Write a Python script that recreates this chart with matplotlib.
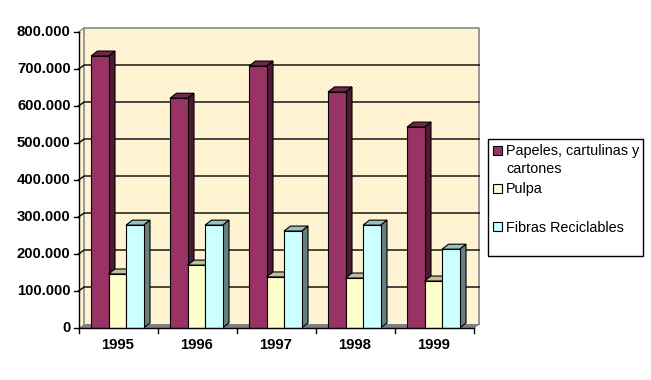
import matplotlib
matplotlib.use("Agg")
import matplotlib.pyplot as plt
from matplotlib.patches import Polygon, Rectangle
import numpy as np

years = ["1995", "1996", "1997", "1998", "1999"]
papeles = [735000, 621000, 708000, 638000, 543000]
pulpa = [146000, 170000, 138000, 135000, 127000]
fibras = [278000, 278000, 262000, 278000, 213000]
series_names = ["Papeles, cartulinas y\ncartones", "Pulpa", "Fibras Reciclables"]
y_ticks = [0, 100000, 200000, 300000, 400000, 500000, 600000, 700000, 800000]

W, H = 651, 380
plt.rcParams["font.family"] = ["Liberation Sans", "DejaVu Sans"]
fig = plt.figure(figsize=(W / 100, H / 100), dpi=100, facecolor="white")

L, R, T, B = 78.5, 473.5, 32.0, 328.0
ax = fig.add_axes([L / W, 1 - B / H, (R - L) / W, (B - T) / H])
ax.set_xlim(0, 5)
ax.set_ylim(0, 800000)
ax.axis("off")

ux = 5 / (R - L)          # x data units per pixel
uy = 800000 / (B - T)     # y data units per pixel
dx, dy = 5.7 * ux, 4 * uy       # wall depth
bdx, bdy = 6.5 * ux, 5 * uy     # bar depth
ymax = 800000

def poly(pts, fc, ec="none", lw=0.8, z=1):
    ax.add_patch(Polygon(pts, closed=True, fc=fc, ec=ec, lw=lw, zorder=z, clip_on=False))

# dithered wall: a repeating 4x4 cell of pale yellow, white and light pink
Y, C, P, N = [255, 255, 204], [255, 250, 225], [255, 226, 205], [255, 243, 205]
cell = np.array([[Y, P, N, C],
                 [N, C, Y, P],
                 [C, Y, P, N],
                 [P, N, C, Y]], dtype=np.uint8)
nw, nh = int(R - L + 6), int(B - T + 4)
tex = np.tile(cell, (nh // 4 + 1, nw // 4 + 1, 1))[:nh, :nw]
ax.imshow(tex, extent=(0, 5 + dx, 0, ymax + dy), aspect="auto", interpolation="nearest",
          zorder=1, clip_on=False)
ax.set_xlim(0, 5)
ax.set_ylim(0, 800000)
# white corners around the skewed side wall / floor
poly([(0, ymax), (dx, ymax + dy), (0, ymax + dy)], "white", z=1.5)
poly([(5, 0), (5 + dx, 0), (5 + dx, dy)], "white", z=1.5)
# floor
poly([(0, 0), (5, 0), (5 + dx, dy), (dx, dy)], "#808080", z=2)
# wall outline
ax.plot([dx, dx, 5 + dx, 5 + dx], [dy, ymax + dy, ymax + dy, dy], color="#8a8a8a", lw=1.2, zorder=2, clip_on=False)
ax.plot([5, 5 + dx], [0, dy], color="#808080", lw=1, zorder=2, clip_on=False)
# gridlines
for v in y_ticks[1:-1]:
    ax.plot([0, dx, 5 + dx], [v, v + dy, v + dy], color="black", lw=1.0, zorder=3, clip_on=False)
ax.plot([0, dx], [ymax, ymax + dy], color="#808080", lw=0.8, zorder=3, clip_on=False)

# bars
styles = [("#993366", "#4D1A33", "#73264D"),
          ("#FFFFCC", "#808066", "#BFBF99"),
          ("#CCFFFF", "#668080", "#99BFBF")]
bw = 17.5 * ux
first = 12.5 * ux
for i in range(len(years)):
    for j, vals in enumerate([papeles, pulpa, fibras]):
        v = vals[i]
        x0 = i + first + j * bw
        x1 = x0 + bw
        front, side, top = styles[j]
        z = 5 + i * 3 + j
        poly([(x1, 0), (x1 + bdx, bdy), (x1 + bdx, v + bdy), (x1, v)], side, "black", z=z)
        poly([(x0, v), (x1, v), (x1 + bdx, v + bdy), (x0 + bdx, v + bdy)], top, "black", z=z)
        poly([(x0, 0), (x1, 0), (x1, v), (x0, v)], front, "black", z=z + 0.5)

# axes lines and ticks
ax.plot([0, 0], [0, ymax], color="black", lw=1.0, zorder=40, clip_on=False)
ax.plot([0, 5], [0, 0], color="black", lw=1.0, zorder=40, clip_on=False)
for v in y_ticks:
    ax.plot([-5 * ux, 0], [v, v], color="black", lw=1.0, zorder=40, clip_on=False)
    ax.text(-8 * ux, v, f"{v:,}".replace(",", "."), ha="right", va="center",
            fontsize=10.7, fontweight="bold", color="black", clip_on=False)
for i in range(len(years) + 1):
    ax.plot([i, i], [0, -5 * uy], color="black", lw=1.0, zorder=40, clip_on=False)
for i, y in enumerate(years):
    ax.text(i + 0.49, -17 * uy, y, ha="center", va="center",
            fontsize=10.7, fontweight="bold", color="black", clip_on=False)

# legend in figure pixel coordinates
def px(x, y):
    return x / W, 1 - y / H

fig.add_artist(Rectangle(px(487.5, 256), 155 / W, 117 / H, transform=fig.transFigure,
                         fc="white", ec="black", lw=1.0))
for name, cy, st in zip(series_names, [150, 188, 227], styles):
    fig.add_artist(Rectangle(px(492.5, cy + 4.5), 9 / W, 9 / H, transform=fig.transFigure,
                             fc=st[0], ec="black", lw=0.8))
    fig.text(506 / W, 1 - (cy - 6.5) / H, name, ha="left", va="top", fontsize=10.4,
             linespacing=1.38, color="black")

fig.savefig("out.png", dpi=100)
